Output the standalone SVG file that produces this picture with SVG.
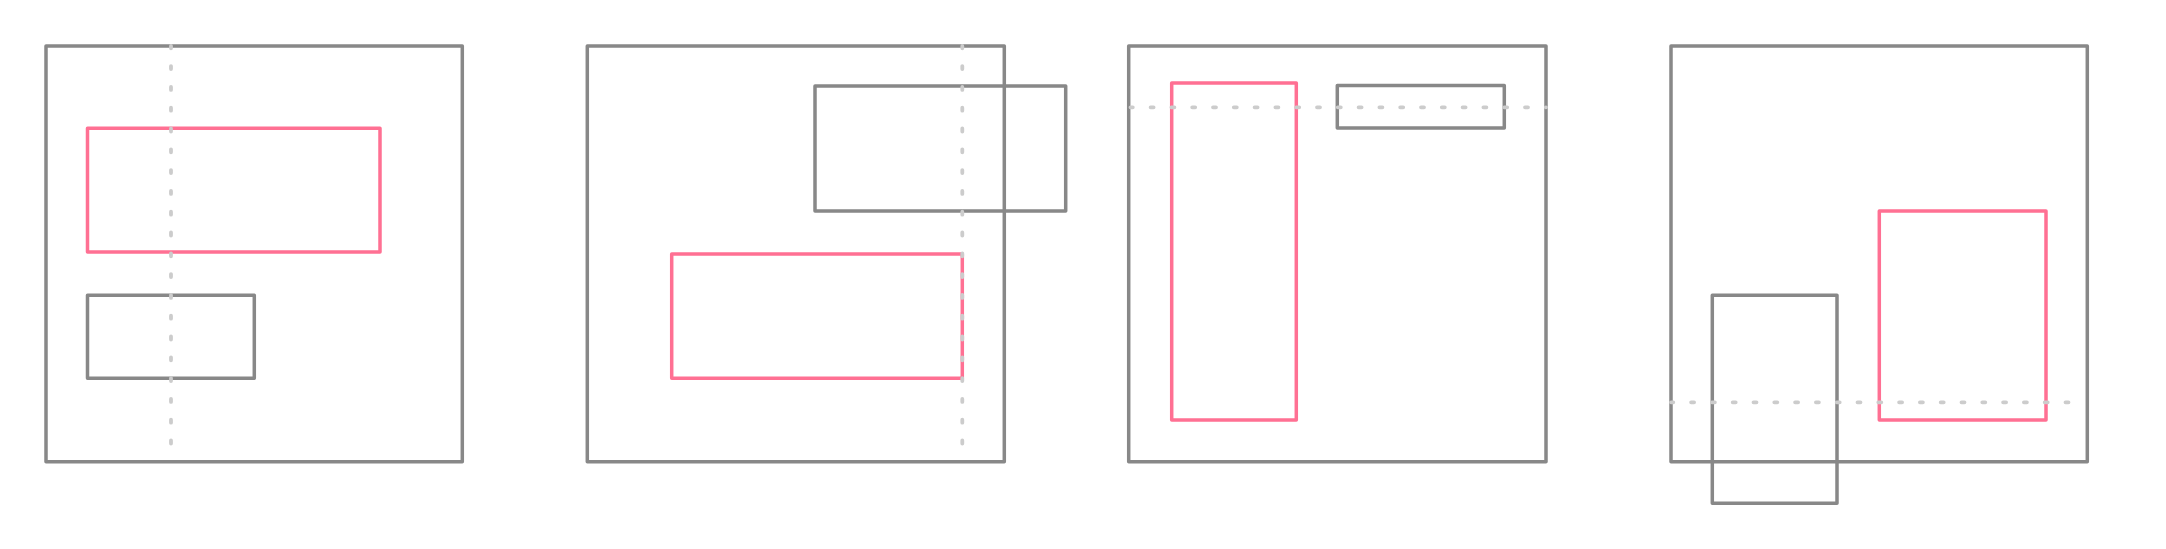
<svg xmlns="http://www.w3.org/2000/svg" width="2166" height="549" viewBox="0 0 2166 549">
<style>
.frame{fill:none;stroke:#888888;stroke-width:3.5;stroke-linejoin:round}
.box{fill:none;stroke:#888888;stroke-width:3.5;stroke-linejoin:round}
.hl{fill:none;stroke:#ff7093;stroke-width:3.5;stroke-linejoin:round}
.guide{fill:none;stroke:#cccccc;stroke-width:3.8;stroke-linecap:round;stroke-dasharray:3 17.8;stroke-dashoffset:0.7}
</style>
<rect width="2166" height="549" fill="#ffffff"/>
<g id="panel1">
<rect class="frame" x="46" y="46" width="416.3" height="415.7"/>
<rect id="p1-highlight" class="hl" x="87.5" y="128.3" width="292.5" height="123.7"/>
<rect id="p1-box" class="box" x="87.5" y="295.3" width="166.8" height="83"/>
</g>
<g id="panel2">
<rect class="frame" x="587.3" y="46" width="417" height="415.7"/>
<rect id="p2-box" class="box" x="815" y="86" width="250.7" height="125"/>
<rect id="p2-highlight" class="hl" x="671.7" y="254" width="290.6" height="124.3"/>
</g>
<g id="panel3">
<rect class="frame" x="1128.7" y="46" width="417.3" height="415.7"/>
<rect id="p3-highlight" class="hl" x="1171.7" y="83" width="124.6" height="337"/>
<rect id="p3-box" class="box" x="1337.3" y="85.5" width="167" height="42.5"/>
</g>
<g id="panel4">
<rect class="frame" x="1671" y="46" width="416.3" height="415.7"/>
<rect id="p4-box" class="box" x="1712.3" y="295.3" width="124.7" height="208"/>
<rect id="p4-highlight" class="hl" x="1879.3" y="211" width="166.7" height="209"/>
</g>
<g id="connectors">
<line class="guide" x1="171" y1="46" x2="171" y2="461"/>
<line class="guide" x1="962.3" y1="46" x2="962.3" y2="461"/>
<line class="guide" x1="1130.5" y1="107.3" x2="1546" y2="107.3"/>
<line class="guide" x1="1671" y1="402.3" x2="2086" y2="402.3"/>
</g>
</svg>
